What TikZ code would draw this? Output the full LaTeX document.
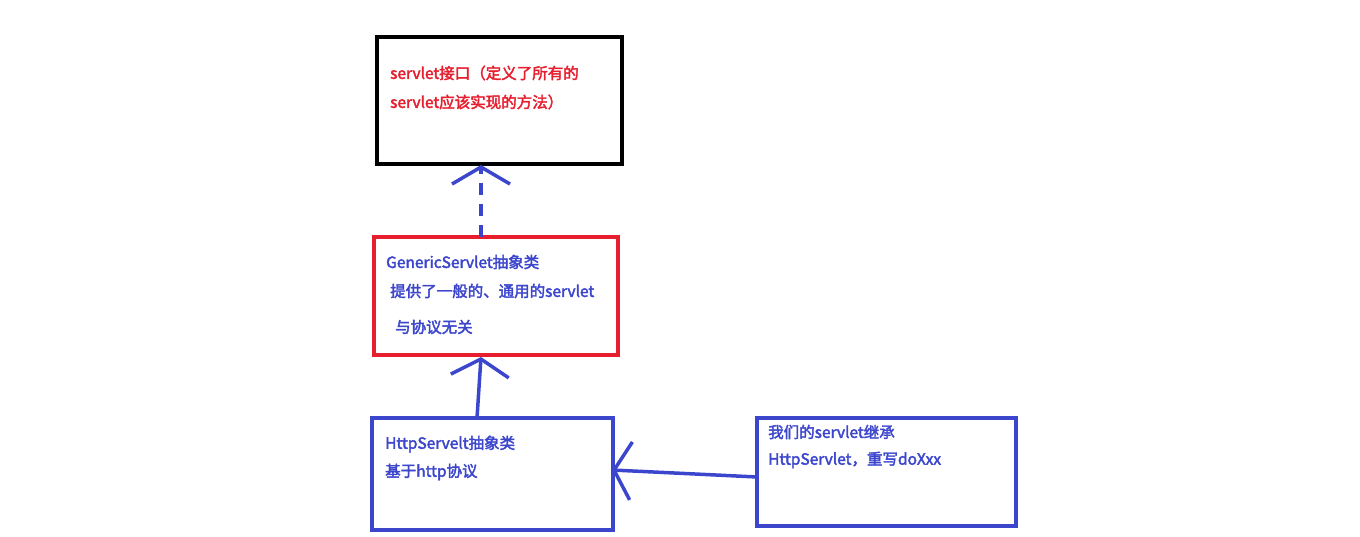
\documentclass[tikz,border=0pt]{standalone}
\usepackage{fontspec}
\setmainfont{Liberation Sans}
\newfontfamily\cjk[AutoFakeBold=2.5]{Noto Sans CJK SC}
\usetikzlibrary{arrows.meta}
\definecolor{bl}{RGB}{60,70,205}
\definecolor{rd}{RGB}{230,30,45}
\tikzset{
 lbl/.style={anchor=west, font=\cjk\bfseries\fontsize{15.5}{17}\selectfont, inner sep=0pt},
 arr/.style={draw=bl, line width=3.5pt, -{Straight Barb[length=17pt,width=58pt,line width=3.5pt]}}
}
\begin{document}
\begin{tikzpicture}[x=1pt,y=-1pt]
\useasboundingbox (0,0) rectangle (1360,537);
\draw[line width=4pt] (377,37) rectangle (622,164);
\coordinate (top) at (481,165);
\draw[rd, line width=3.5pt] (374,237) rectangle (618,355);
\coordinate (gtop) at (481,357);
\coordinate (gbot) at (481,237);
\draw[bl, line width=3.5pt] (372,418) rectangle (613,530);
\coordinate (htop) at (477,418);
\coordinate (hright) at (612,470);
\draw[bl, line width=3.5pt] (757,418) rectangle (1016,526);
\coordinate (wleft) at (757,477);
\node[lbl, rd] (t1) at (390,73) {servlet接口（定义了所有的};
\node[lbl, rd] (t2) at (390,102) {servlet应该实现的方法）};
\node[lbl, bl] (g1) at (386,262) {GenericServlet抽象类};
\node[lbl, bl] (g2) at (390,291) {提供了一般的、通用的servlet};
\node[lbl, bl] (g3) at (395,327) {与协议无关};
\node[lbl, bl] (h1) at (385,444) {HttpServelt抽象类};
\node[lbl, bl] (h2) at (385,472) {基于http协议};
\node[lbl, bl] (w1) at (768,432) {我们的servlet继承};
\node[lbl, bl] (w2) at (768,460) {HttpServlet，重写doXxx};
\draw[arr, dash pattern=on 12pt off 9pt] (gbot) -- (top);
\draw[arr] (htop) -- (gtop);
\draw[arr] (wleft) -- (hright);
\end{tikzpicture}
\end{document}
